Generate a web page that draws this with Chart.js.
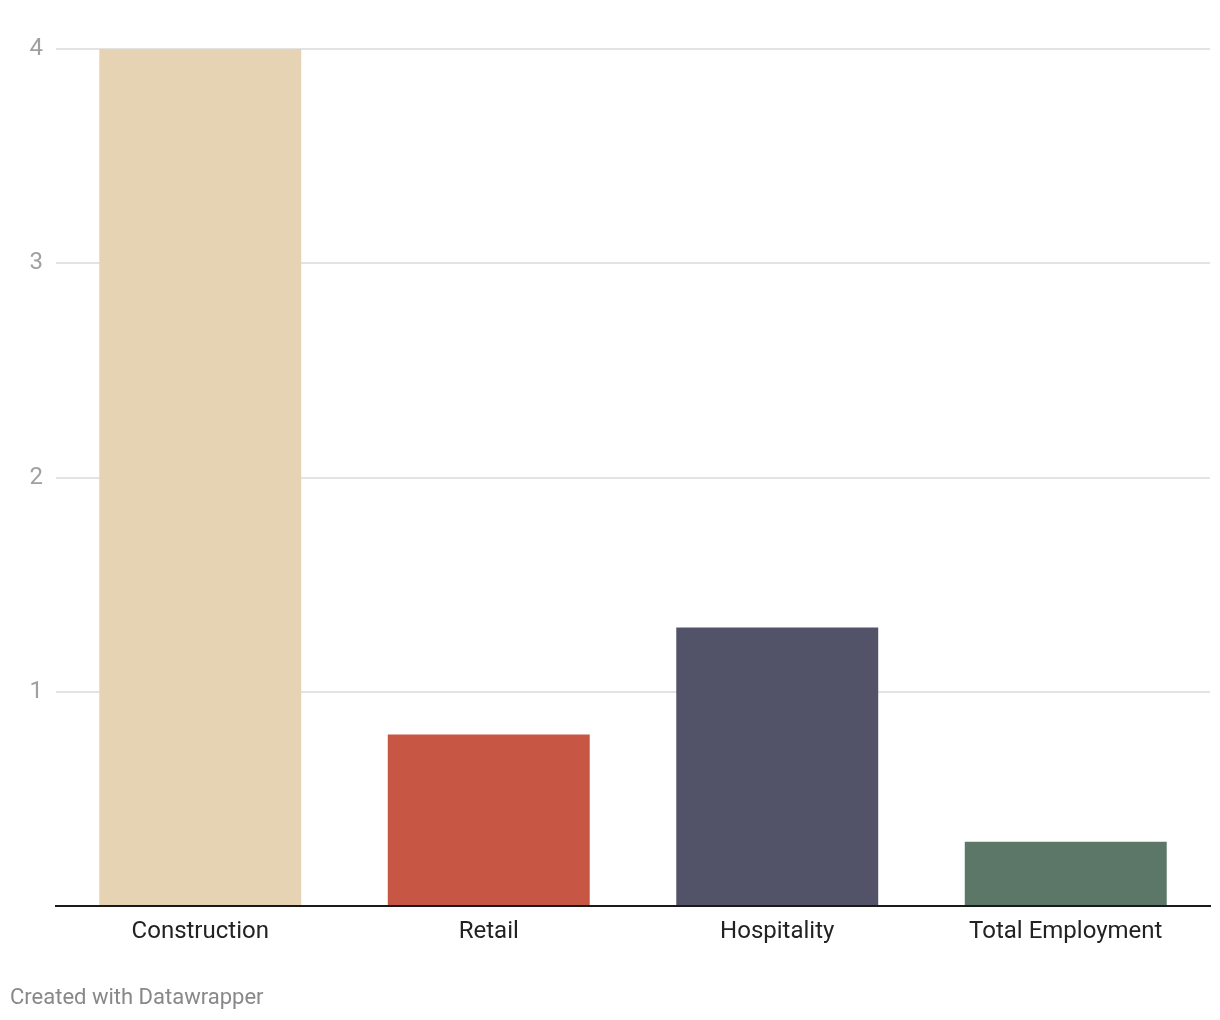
<!DOCTYPE html>
<html>
<head>
<meta charset="utf-8">
<script src="https://cdn.jsdelivr.net/npm/chart.js@4"></script>
<style>
    html, body { margin: 0; padding: 0; background: #ffffff; }
    #wrap { position: relative; width: 1220px; height: 1020px; }
    #footer {
        position: absolute; left: 10px; top: 984px;
        font-family: Roboto, sans-serif; font-size: 22px; color: #888888;
    }
</style>
</head>
<body>
<div id="wrap">
    <canvas id="chart" width="1220" height="1020"></canvas>
    <div id="footer">Created with Datawrapper</div>
</div>
<script>
var categories = ["Construction", "Retail", "Hospitality", "Total Employment"];
var values = [4.0, 0.8, 1.3, 0.3];
var barColors = ["#e6d3b3", "#c85645", "#525368", "#5c7767"];
var yTicks = [0, 1, 2, 3, 4];

var ctx = document.getElementById("chart").getContext("2d");

var chart = new Chart(ctx, {
    type: 'bar',
    data: {
        labels: categories,
        datasets: [{
            data: values,
            backgroundColor: barColors,
            categoryPercentage: 0.7,
            barPercentage: 1.0
        }]
    },
    options: {
        responsive: false,
        animation: false,
        layout: {
            padding: { top: 49, right: 10, bottom: 0, left: 0 }
        },
        plugins: {
            legend: { display: false },
            tooltip: { enabled: false }
        },
        scales: {
            x: {
                grid: { display: false, drawTicks: false },
                border: { display: true, color: '#1a1a1a', width: 2 },
                ticks: {
                    color: '#222222',
                    padding: 12,
                    font: { family: 'Roboto', size: 24 }
                },
                afterFit: function(scale) { scale.height = 114; }
            },
            y: {
                min: 0,
                max: 4,
                afterBuildTicks: function(scale) {
                    scale.ticks = yTicks.map(function(v) { return { value: v }; });
                },
                grid: {
                    drawTicks: false,
                    color: function(c) { return c.tick && c.tick.value === 0 ? 'rgba(0,0,0,0)' : '#e3e3e3'; },
                    lineWidth: 2
                },
                border: { display: false },
                ticks: {
                    color: '#a0a0a0',
                    padding: 13,
                    font: { family: 'Roboto', size: 24 },
                    callback: function(v) { return v === 0 ? '' : v; }
                },
                afterFit: function(scale) { scale.width = 56; }
            }
        }
    }
});
</script>
</body>
</html>
